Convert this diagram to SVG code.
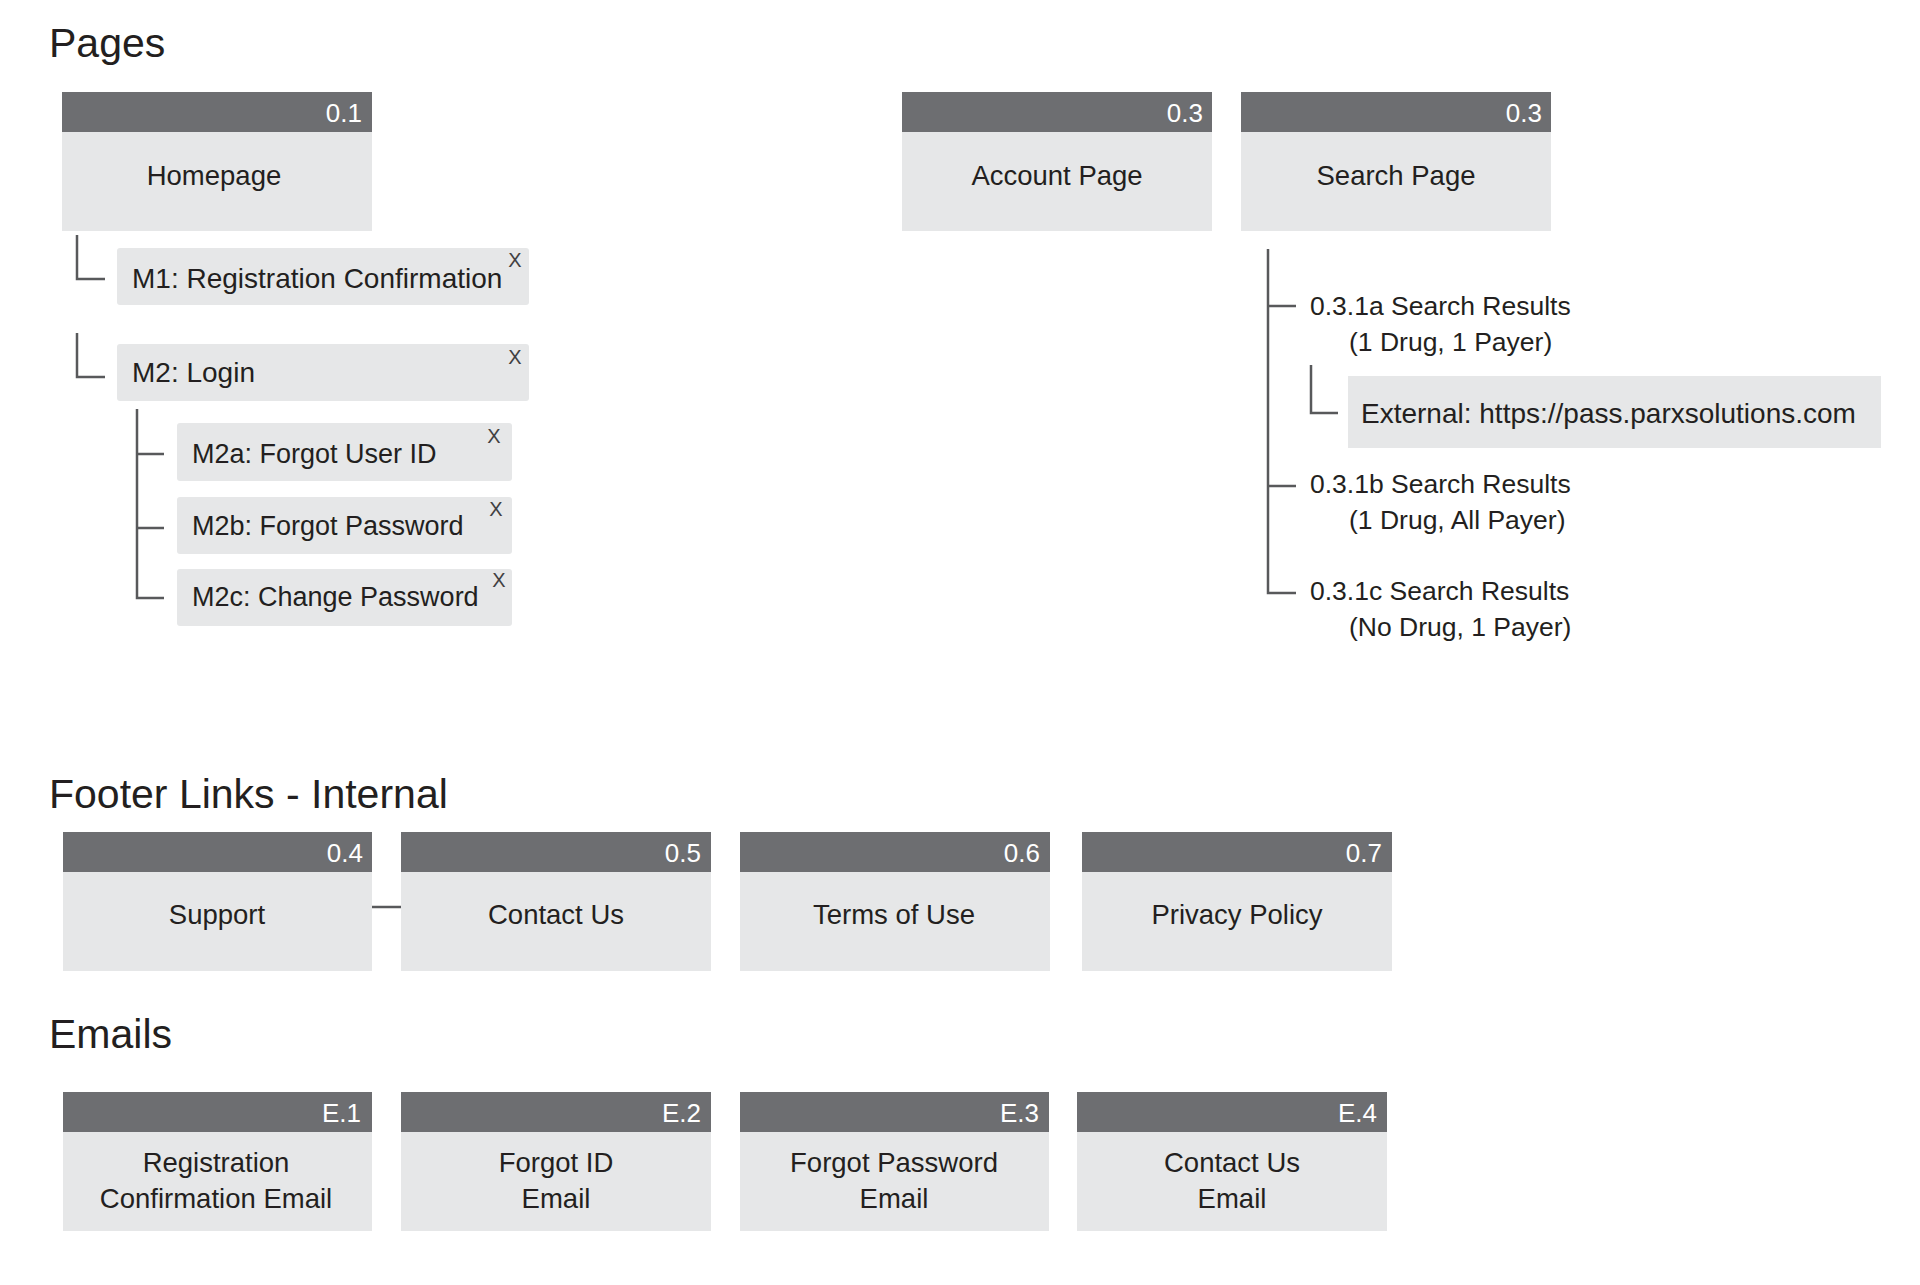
<svg xmlns="http://www.w3.org/2000/svg" width="1920" height="1285" viewBox="0 0 1920 1285">
<style>
text{font-family:"Liberation Sans",Arial,sans-serif;fill:#231f20}
.title{font-size:41px}
.hd{fill:#6d6e71}
.bd{fill:#e6e7e8}
.num{font-size:26px;fill:#ffffff;text-anchor:end}
.lbl{font-size:27.5px;text-anchor:middle}
.m{font-size:28px}
.ms{font-size:27px}
.x{font-size:20px;fill:#414042;text-anchor:middle}
.sr{font-size:26.5px}
.conn{fill:none;stroke:#58595b;stroke-width:2.5}
</style>
<rect width="1920" height="1285" fill="#ffffff"/>
<text class="title" x="49" y="57">Pages</text>
<text class="title" x="49" y="808">Footer Links - Internal</text>
<text class="title" x="49" y="1048">Emails</text>

<g id="connectors">
<path class="conn" d="M77,235 V279 H105"/>
<path class="conn" d="M77,333 V377 H105"/>
<path class="conn" d="M137,409 V598 H164 M137,454 H164 M137,528 H164"/>
<path class="conn" d="M1268,249 V593 H1296 M1268,306 H1296 M1268,486 H1296"/>
<path class="conn" d="M1311,365 V413 H1338"/>
<path class="conn" d="M372,907 H401"/>
</g>

<g id="homepage">
<rect class="hd" x="62" y="92" width="310" height="40"/>
<rect class="bd" x="62" y="132" width="310" height="99"/>
<text class="num" x="362" y="122">0.1</text>
<text class="lbl" x="214" y="185">Homepage</text>
</g>
<g id="account">
<rect class="hd" x="902" y="92" width="310" height="40"/>
<rect class="bd" x="902" y="132" width="310" height="99"/>
<text class="num" x="1203" y="122">0.3</text>
<text class="lbl" x="1057" y="185">Account Page</text>
</g>
<g id="search">
<rect class="hd" x="1241" y="92" width="310" height="40"/>
<rect class="bd" x="1241" y="132" width="310" height="99"/>
<text class="num" x="1542" y="122">0.3</text>
<text class="lbl" x="1396" y="185">Search Page</text>
</g>

<g id="m1">
<rect class="bd" x="117" y="248" width="412" height="57" rx="3"/>
<text class="m" x="132" y="288">M1: Registration Confirmation</text>
<text class="x" x="515" y="267">X</text>
</g>
<g id="m2">
<rect class="bd" x="117" y="344" width="412" height="57" rx="3"/>
<text class="m" x="132" y="382">M2: Login</text>
<text class="x" x="515" y="364">X</text>
</g>
<g id="m2a">
<rect class="bd" x="177" y="423" width="335" height="58" rx="3"/>
<text class="ms" x="192" y="463">M2a: Forgot User ID</text>
<text class="x" x="494" y="443">X</text>
</g>
<g id="m2b">
<rect class="bd" x="177" y="497" width="335" height="57" rx="3"/>
<text class="ms" x="192" y="535">M2b: Forgot Password</text>
<text class="x" x="496" y="516">X</text>
</g>
<g id="m2c">
<rect class="bd" x="177" y="569" width="335" height="57" rx="3"/>
<text class="ms" x="192" y="606">M2c: Change Password</text>
<text class="x" x="499" y="587">X</text>
</g>

<g id="sr1a">
<text class="sr" x="1310" y="315">0.3.1a Search Results</text>
<text class="sr" x="1349" y="351">(1 Drug, 1 Payer)</text>
</g>
<g id="external">
<rect class="bd" x="1348" y="376" width="533" height="72"/>
<text class="m" x="1361" y="423">External: https://pass.parxsolutions.com</text>
</g>
<g id="sr1b">
<text class="sr" x="1310" y="493">0.3.1b Search Results</text>
<text class="sr" x="1349" y="529">(1 Drug, All Payer)</text>
</g>
<g id="sr1c">
<text class="sr" x="1310" y="600">0.3.1c Search Results</text>
<text class="sr" x="1349" y="636">(No Drug, 1 Payer)</text>
</g>

<g id="support">
<rect class="hd" x="63" y="832" width="309" height="40"/>
<rect class="bd" x="63" y="872" width="309" height="99"/>
<text class="num" x="363" y="862">0.4</text>
<text class="lbl" x="217" y="924">Support</text>
</g>
<g id="contact">
<rect class="hd" x="401" y="832" width="310" height="40"/>
<rect class="bd" x="401" y="872" width="310" height="99"/>
<text class="num" x="701" y="862">0.5</text>
<text class="lbl" x="556" y="924">Contact Us</text>
</g>
<g id="terms">
<rect class="hd" x="740" y="832" width="310" height="40"/>
<rect class="bd" x="740" y="872" width="310" height="99"/>
<text class="num" x="1040" y="862">0.6</text>
<text class="lbl" x="894" y="924">Terms of Use</text>
</g>
<g id="privacy">
<rect class="hd" x="1082" y="832" width="310" height="40"/>
<rect class="bd" x="1082" y="872" width="310" height="99"/>
<text class="num" x="1382" y="862">0.7</text>
<text class="lbl" x="1237" y="924">Privacy Policy</text>
</g>

<g id="e1">
<rect class="hd" x="63" y="1092" width="309" height="40"/>
<rect class="bd" x="63" y="1132" width="309" height="99"/>
<text class="num" x="361" y="1122">E.1</text>
<text class="lbl" x="216" y="1172">Registration</text>
<text class="lbl" x="216" y="1208">Confirmation Email</text>
</g>
<g id="e2">
<rect class="hd" x="401" y="1092" width="310" height="40"/>
<rect class="bd" x="401" y="1132" width="310" height="99"/>
<text class="num" x="701" y="1122">E.2</text>
<text class="lbl" x="556" y="1172">Forgot ID</text>
<text class="lbl" x="556" y="1208">Email</text>
</g>
<g id="e3">
<rect class="hd" x="740" y="1092" width="309" height="40"/>
<rect class="bd" x="740" y="1132" width="309" height="99"/>
<text class="num" x="1039" y="1122">E.3</text>
<text class="lbl" x="894" y="1172">Forgot Password</text>
<text class="lbl" x="894" y="1208">Email</text>
</g>
<g id="e4">
<rect class="hd" x="1077" y="1092" width="310" height="40"/>
<rect class="bd" x="1077" y="1132" width="310" height="99"/>
<text class="num" x="1377" y="1122">E.4</text>
<text class="lbl" x="1232" y="1172">Contact Us</text>
<text class="lbl" x="1232" y="1208">Email</text>
</g>
</svg>
